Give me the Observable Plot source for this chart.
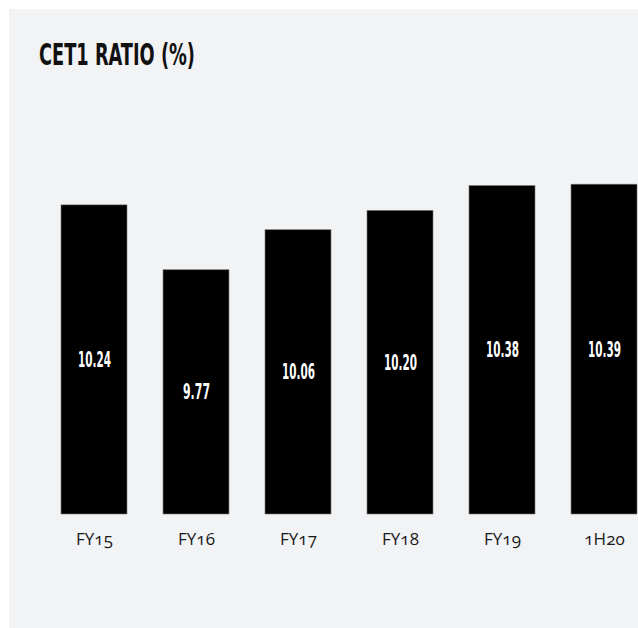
<!DOCTYPE html>
<html>
<head>
<meta charset="utf-8">
<script src="https://cdn.jsdelivr.net/npm/d3@7"></script>
<script src="https://cdn.jsdelivr.net/npm/@observablehq/plot@0.6"></script>
<style>
  html, body { margin: 0; padding: 0; background: #ffffff; overflow: hidden; }
  #panel { position: absolute; left: 9px; top: 9px; width: 629px; height: 619px; background: #f2f3f5; overflow: hidden; }
  #title { position: absolute; left: 30px; top: 27px; font-family: "DejaVu Sans Condensed", "DejaVu Sans", sans-serif; font-stretch: condensed; font-weight: bold; font-size: 31px; line-height: 36px; color: #111; transform-origin: left top; white-space: nowrap; display: inline-block; }
  #chart { position: absolute; left: 0; top: 91px; }
  #chart svg { max-width: none !important; }
  #chart .xlab text { font-variant-numeric: oldstyle-nums; font-feature-settings: "onum" 1; }
</style>
</head>
<body>
<div id="panel">
  <div id="title">CET1 RATIO (%)</div>
  <div id="chart"></div>
</div>
<script>
const categories = ["FY15", "FY16", "FY17", "FY18", "FY19", "1H20"];
const values = [10.24, 9.77, 10.06, 10.20, 10.38, 10.39];
const valueLabels = ["10.24", "9.77", "10.06", "10.20", "10.38", "10.39"];
const baseValue = 8;

const data = categories.map((c, i) => ({cat: c, value: values[i], label: valueLabels[i]}));

const plot = Plot.plot({
  width: 650,
  height: 500,
  marginLeft: 34,
  marginRight: 4,
  marginTop: 0,
  marginBottom: 86,
  style: {background: "transparent", overflow: "visible", maxWidth: "none"},
  x: {domain: categories, paddingInner: 0.353, paddingOuter: 0.1765, label: null},
  y: {domain: [8, 11], axis: null},
  marks: [
    Plot.barY(data, {x: "cat", y1: baseValue, y2: "value", fill: "#000", stroke: "#777", strokeWidth: 0.6}),
    Plot.text(data, {x: "cat", y: d => (baseValue + d.value) / 2, text: "label", fill: "#fff",
      fontFamily: "DejaVu Sans Condensed, DejaVu Sans, sans-serif", fontWeight: "bold", fontSize: 22, className: "vlab"}),
    Plot.axisX({tickSize: 0, tickPadding: 18, fontSize: 17, fill: "#1a1a1a", className: "xlab",
      fontFamily: "Open Sans, sans-serif", label: null})
  ]
});
document.getElementById("chart").appendChild(plot);

// condense title to the reference width
const title = document.getElementById("title");
const tw = title.getBoundingClientRect().width;
title.style.transform = `scaleX(${156 / tw})`;

// condense value labels
plot.querySelectorAll(".vlab text").forEach(t => {
  const w = t.getComputedTextLength();
  const target = t.textContent.length === 4 ? 27 : 33;
  const s = target / w;
  const tr = t.getAttribute("transform") || "";
  const x = +(t.getAttribute("x") || 0);
  t.setAttribute("x", x / s);
  t.setAttribute("transform", tr + ` scale(${s},1)`);
});
</script>
</body>
</html>
